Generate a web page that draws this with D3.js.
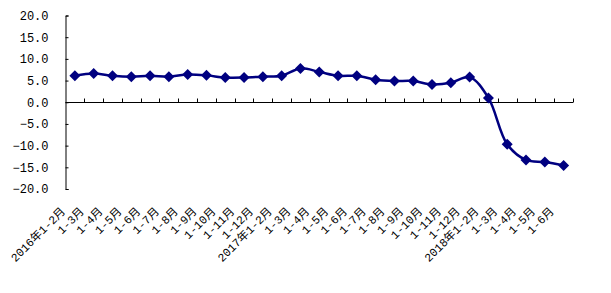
<!DOCTYPE html>
<html>
<head>
<meta charset="utf-8">
<script src="https://cdn.jsdelivr.net/npm/d3@7"></script>
<style>
  body { margin: 0; background: #fff; }
  svg { display: block; }
</style>
</head>
<body>
<svg id="chart" width="611" height="293"></svg>
<script>
// categories (2016-01/02 .. 2018-01/06), cumulative growth %
const categories = [
  "2016年1-2月", "1-3月", "1-4月", "1-5月", "1-6月", "1-7月", "1-8月", "1-9月", "1-10月", "1-11月", "1-12月",
  "2017年1-2月", "1-3月", "1-4月", "1-5月", "1-6月", "1-7月", "1-8月", "1-9月", "1-10月", "1-11月", "1-12月",
  "2018年1-2月", "1-3月", "1-4月", "1-5月", "1-6月"
];
const values = [
  6.1, 6.6, 6.1, 5.9, 6.1, 5.9, 6.4, 6.2, 5.7, 5.7, 5.9,
  6.1, 7.8, 7.0, 6.1, 6.1, 5.2, 4.9, 4.9, 4.1, 4.5, 5.8,
  1.0, -9.7, -13.3, -13.8, -14.6
];
const yTicks = [-20, -15, -10, -5, 0, 5, 10, 15, 20];

const svg = d3.select('#chart');
const plotLeft = 65.5, plotRight = 573, plotTop = 15.5, plotBottom = 189;

const x = d3.scaleBand().domain(d3.range(categories.length)).range([plotLeft, plotRight]);
const y = d3.scaleLinear().domain([-20, 20]).range([plotBottom, plotTop]);
const cx = i => x(i) + x.bandwidth() / 2;

// y axis (ticks inside)
const yAxis = d3.axisLeft(y).tickValues(yTicks).tickSize(-3).tickFormat(d3.format('.1f'));
const gy = svg.append('g').attr('transform', `translate(${plotLeft},0)`).call(yAxis);
gy.select('.domain').attr('stroke', '#000');
gy.selectAll('.tick line').attr('stroke', '#000');
gy.selectAll('.tick text')
  .attr('x', -17)
  .attr('fill', '#000')
  .style('font-family', '"Liberation Mono", "DejaVu Sans Mono", monospace')
  .style('font-size', '12px');

// x axis at zero, ticks on category boundaries pointing up
const zeroY = Math.round(y(0)) + 0.5;
svg.append('line')
  .attr('x1', plotLeft).attr('x2', plotRight)
  .attr('y1', zeroY).attr('y2', zeroY)
  .attr('stroke', '#000');
svg.append('g').selectAll('line')
  .data(d3.range(1, categories.length + 1))
  .enter().append('line')
    .attr('x1', i => Math.round(plotLeft + i * x.step()) + 0.5)
    .attr('x2', i => Math.round(plotLeft + i * x.step()) + 0.5)
    .attr('y1', zeroY).attr('y2', zeroY - 4)
    .attr('stroke', '#000');

// category labels below the plot, rotated
svg.append('g').selectAll('text')
  .data(categories)
  .enter().append('text')
    .attr('transform', (d, i) => `translate(${cx(i) - 9},${plotBottom + 23}) rotate(-45)`)
    .attr('text-anchor', 'end')
    .attr('fill', '#000')
    .style('font-family', '"Liberation Mono", "Noto Sans CJK SC", monospace')
    .style('font-size', '11.5px')
    .text(d => d);

// line
const line = d3.line()
  .x((d, i) => cx(i))
  .y(d => y(d))
  .curve(d3.curveCatmullRom.alpha(0.5));

svg.append('path')
  .datum(values)
  .attr('d', line)
  .attr('fill', 'none')
  .attr('stroke', '#000080')
  .attr('stroke-width', 2.5);

// diamond markers
svg.append('g').selectAll('path')
  .data(values)
  .enter().append('path')
    .attr('transform', (d, i) => `translate(${cx(i)},${y(d)})`)
    .attr('d', 'M0,-5.5L5.5,0L0,5.5L-5.5,0Z')
    .attr('fill', '#000080');
</script>
</body>
</html>
